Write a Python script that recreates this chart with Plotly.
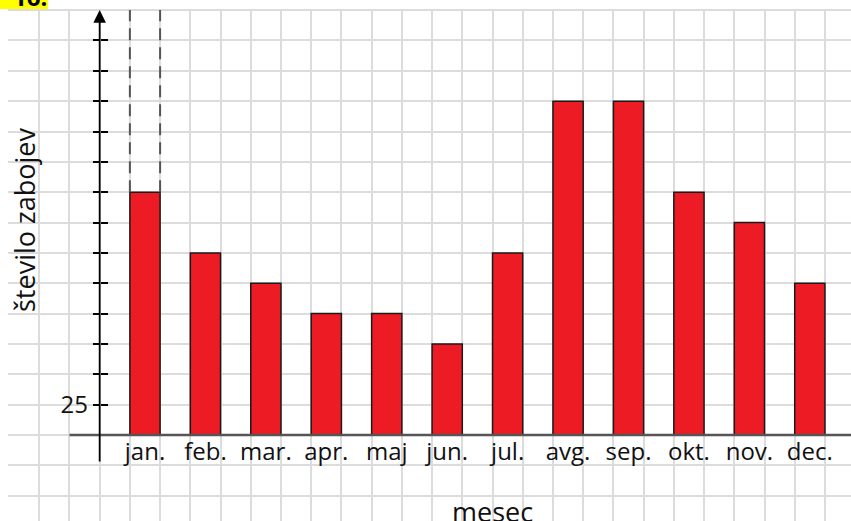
import plotly.graph_objects as go

# Data (one grid step = 1 unit, 25 at first tick)
months = ["jan.", "feb.", "mar.", "apr.", "maj", "jun.", "jul.", "avg.", "sep.", "okt.", "nov.", "dec."]
zaboji = [32, 30, 29, 28, 28, 27, 30, 35, 35, 32, 31, 29]
y_ticks = list(range(25, 38))
y_ticktext = ["25"] + [""] * (len(y_ticks) - 1)

# Grid paper geometry
W, H = 851, 521
L, T = 8, 9
ux, uy = 30.22, 30.35
base = 24          # value at the x axis line
axis_px = 435      # pixel row of the x axis line

x_lo = -(9 - L) / ux
x_hi = (W - 9) / ux
y_hi = base + (axis_px - T) / uy
y_lo = base - (H - axis_px) / uy

centers = [4.5 + 2 * i for i in range(len(months))]
yax_pos = (9 + 3 * ux - L) / (W - L)
xax_pos = (H - axis_px) / (H - T)

font = "Open Sans"

fig = go.Figure()
fig.add_trace(go.Bar(
    x=centers, y=[v - base for v in zaboji], base=base, width=1,
    xaxis="x", yaxis="y",
    marker=dict(color="#ED1C24", line=dict(color="#1a1a1a", width=1.5)),
    hoverinfo="skip", showlegend=False,
))
# helper traces so the overlaid label / tick axes are drawn
for xa, ya in [("x2", "y"), ("x", "y2"), ("x", "y3")]:
    fig.add_trace(go.Scatter(x=[0], y=[base], xaxis=xa, yaxis=ya, mode="markers",
                             marker=dict(opacity=0), hoverinfo="skip", showlegend=False))

grid = dict(showgrid=True, gridcolor="#dcdcdc", gridwidth=2, dtick=1, tick0=0,
            showticklabels=False, zeroline=False, showline=False, ticks="",
            fixedrange=True, automargin=False)
fig.update_layout(
    width=W, height=H,
    margin=dict(l=L, r=0, t=T, b=0),
    paper_bgcolor="white", plot_bgcolor="white",
    xaxis=dict(range=[x_lo, x_hi], **grid),
    yaxis=dict(range=[y_lo, y_hi], **grid),
    xaxis2=dict(range=[x_lo, x_hi], overlaying="x", anchor="free", position=xax_pos,
                showgrid=False, zeroline=False, showline=False, ticks="", automargin=False,
                tickvals=centers, ticktext=months,
                tickfont=dict(family=font, size=24, color="#111")),
    yaxis2=dict(range=[y_lo, y_hi], overlaying="y", anchor="free", position=yax_pos,
                showgrid=False, zeroline=False, showline=False, automargin=False,
                ticks="outside", ticklen=7, tickwidth=1.5, tickcolor="black",
                tickvals=y_ticks, ticktext=y_ticktext,
                tickfont=dict(family=font, size=24, color="#111")),
    yaxis3=dict(range=[y_lo, y_hi], overlaying="y", anchor="free", position=yax_pos,
                showgrid=False, zeroline=False, showline=False, automargin=False,
                ticks="inside", ticklen=7, tickwidth=1.5, tickcolor="black",
                tickvals=y_ticks, showticklabels=False),
    showlegend=False,
)

# x axis line
fig.add_shape(type="line", xref="x", yref="y", x0=2, x1=x_hi + 1, y0=base, y1=base,
              line=dict(color="#555555", width=2.5), layer="above")
# dashed frame above jan.
for xd in [4, 5]:
    fig.add_shape(type="line", xref="x", yref="y", x0=xd, x1=xd, y0=zaboji[0], y1=38,
                  line=dict(color="#555555", width=2, dash="12px,7px"), layer="above")
# y axis with arrow
fig.add_annotation(x=3, y=38, ax=3, ay=base - 28 / uy, xref="x", yref="y", axref="x", ayref="y",
                   text="", showarrow=True, arrowhead=2, arrowsize=1.4, arrowwidth=1.8,
                   arrowcolor="black")

# axis titles
fig.add_annotation(x=(492 - L) / (W - L), y=(H - 511) / (H - T), xref="paper", yref="paper",
                   xanchor="center", yanchor="middle",
                   text="mesec", showarrow=False, font=dict(family=font, size=27, color="#111"))
fig.add_annotation(x=(24 - L) / (W - L), y=(H - 220) / (H - T), xref="paper", yref="paper",
                   xanchor="center", yanchor="middle",
                   text="število zabojev", textangle=-90, showarrow=False,
                   font=dict(family=font, size=27, color="#111"))

# yellow task number box, cut by the top edge
fig.add_shape(type="rect", xref="paper", yref="paper", x0=-L / (W - L), x1=(48 - L) / (W - L),
              y0=1.0, y1=1.05, fillcolor="#FFFF00", line=dict(width=0), layer="above")
fig.add_annotation(x=(11 - L) / (W - L), y=(H - 15) / (H - T), xref="paper", yref="paper",
                   xanchor="left", yanchor="bottom", text="<b>16.</b>", showarrow=False,
                   font=dict(family=font, size=24, color="black"))

fig.write_html("out.html", config={"displayModeBar": False},
               post_script="document.body.style.margin='0';")
